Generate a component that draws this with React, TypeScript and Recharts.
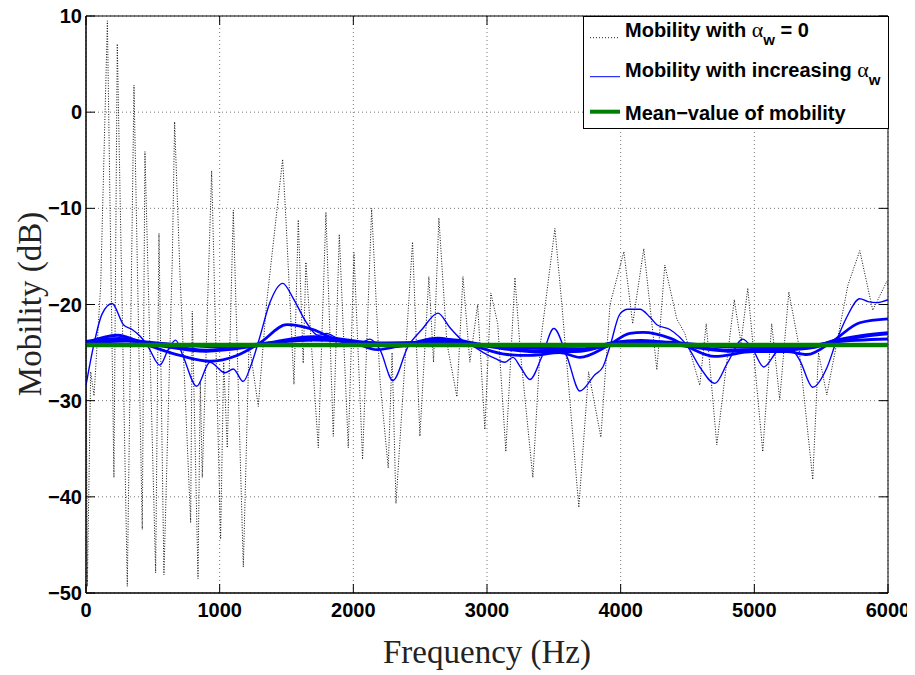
import { LineChart, Line, XAxis, YAxis, CartesianGrid, ReferenceArea, Legend } from 'recharts';

// axis ticks
const freqTicks = [0, 1000, 2000, 3000, 4000, 5000, 6000];
const dbTicks = [-50, -40, -30, -20, -10, 0, 10];

// mobility with alpha_w = 0 (dotted, resonance peaks / anti-resonances)
const undampedFreq = [
  0, 10, 35, 60, 110, 160, 209, 234, 270, 309, 359, 421, 441, 521, 546, 583, 646, 663, 703, 783,
  795, 838, 855, 870, 940, 1007, 1030, 1057, 1102, 1177, 1220, 1289, 1350, 1471, 1496, 1556, 1588, 1625, 1645, 1738,
  1795, 1850, 1895, 1962, 2005, 2069, 2137, 2200, 2261, 2290, 2319, 2443, 2498, 2565, 2600, 2640, 2700, 2775, 2820, 2872,
  2930, 2984, 3029, 3080, 3141, 3209, 3250, 3343, 3400, 3508, 3560, 3687, 3760, 3852, 3920, 4024, 4090, 4173, 4271, 4330,
  4420, 4480, 4592, 4640, 4719, 4850, 4900, 4951, 5063, 5130, 5190, 5258, 5330, 5437, 5480, 5542, 5700, 5789, 5886, 5991, 6000,
];
const undampedDb = [
  -22, -49.3, -27, -29.5, -18, 9.5, -38, 7.1, -20, -49.3, 2.8, -43.4, -4.1, -47.9, -12.6, -48.1, -15.1, -1.0, -16.8, -42.7,
  -20.7, -48.5, -28, -38, -6.1, -44.4, -26, -34.9, -10.2, -47.3, -24, -30.6, -20, -4.9, -11.2, -28.3, -11.2, -26.1, -15.6, -34.9,
  -10.4, -33.7, -12.7, -34.9, -14.6, -36.1, -10.0, -28, -37.0, -25, -40.7, -13.5, -33.7, -17.1, -26, -11, -24, -29.6, -17.1, -26,
  -20, -33, -18.8, -22, -35.3, -17.2, -25, -38, -24, -12.1, -20, -41.1, -27, -33.8, -20, -14.5, -22, -14.2, -26.8, -15.9,
  -21.5, -23, -28.4, -22, -34.6, -19.5, -24, -18.3, -35.3, -22, -29.9, -18.7, -24, -38.2, -25, -29.4, -18, -14.4, -20.6, -17.6, -18,
];

// mobility with increasing alpha_w (4 curves, smallest damping first)
const alpha1Freq = [
  0, 55, 120, 195, 280, 345, 405, 465, 553, 615, 670, 727, 828, 927, 1040, 1102, 1175, 1240, 1300, 1376,
  1472, 1548, 1650, 1736, 1800, 1877, 1975, 2050, 2124, 2199, 2296, 2408, 2513, 2633, 2722, 2797, 2895, 2999, 3060, 3134,
  3194, 3250, 3321, 3411, 3500, 3598, 3695, 3807, 3867, 3919, 3994, 4054, 4144, 4218, 4271, 4368, 4503, 4592, 4705, 4802,
  4914, 4989, 5071, 5168, 5243, 5340, 5437, 5542, 5617, 5692, 5789, 5850, 5916, 6000,
];
const alpha1Db = [
  -28.4, -24.4, -21.0, -19.9, -22.1, -22.6, -23.3, -24.4, -26.3, -24.7, -23.7, -25.4, -28.5, -26.0, -27.1, -26.7, -28.0, -26.1, -23.4, -19.8,
  -17.8, -19.3, -21.9, -23.2, -23.0, -23.5, -23.9, -24.0, -23.6, -24.7, -27.9, -24.4, -22.6, -20.9, -22.4, -23.5, -24.3, -25.2, -25.6, -26.0,
  -25.5, -26.5, -27.8, -25.4, -22.5, -25.4, -29.0, -27.3, -26.5, -24.4, -21.0, -20.5, -20.5, -21.3, -22.1, -22.6, -24.4, -26.5, -28.2, -26.0,
  -23.6, -24.7, -26.5, -24.9, -24.2, -25.8, -28.6, -26.6, -23.7, -21.3, -19.4, -19.7, -19.8, -19.5,
];
const alpha2Freq = [
  0, 232, 456, 703, 927, 1129, 1301, 1503, 1698, 1877, 2027, 2176, 2408, 2633, 2872, 3149, 3321, 3545, 3695, 3904,
  4069, 4166, 4368, 4503, 4705, 4989, 5243, 5393, 5587, 5789, 6000,
];
const alpha2Db = [
  -24.0, -23.2, -24.2, -25.3, -25.9, -25.3, -24.0, -22.1, -22.6, -23.7, -24.1, -24.7, -24.1, -23.5, -24.2, -25.2, -25.3, -25.0, -25.5, -24.3,
  -23.0, -22.9, -23.5, -24.4, -25.4, -24.9, -24.9, -25.2, -23.8, -21.9, -21.5,
];
const alpha3Freq = [0, 250, 500, 900, 1300, 1700, 2100, 2300, 2700, 3000, 3400, 3700, 3950, 4150, 4500, 4800, 5200, 5450, 5600, 5800, 6000];
const alpha3Db = [-23.9, -23.6, -24.1, -24.8, -24.2, -23.4, -24.0, -24.3, -23.7, -24.3, -24.9, -24.8, -24.0, -23.8, -24.3, -24.8, -24.7, -24.4, -23.8, -23.3, -23.0];
const alpha4Freq = [0, 300, 700, 1000, 1300, 1700, 2200, 2700, 3200, 3700, 4000, 4300, 4800, 5300, 5600, 6000];
const alpha4Db = [-24.0, -23.8, -24.2, -24.4, -24.1, -23.7, -24.0, -23.9, -24.5, -24.6, -24.1, -23.9, -24.4, -24.5, -23.9, -23.6];

// mean value of mobility
const meanFreq = [0, 6000];
const meanDb = [-24.2, -24.2];

const toPoints = (f: number[], v: number[]) => f.map((x, i) => ({ f: x, db: v[i] }));

const PLOT_W = 802;
const PLOT_H = 577;
const TICK_LEN = 9;
const sans = '"Liberation Sans", Arial, Helvetica, sans-serif';
const serif = '"Liberation Serif", "Times New Roman", serif';

const fmt = (v: number) => (v < 0 ? '\u2212' + Math.abs(v) : String(v));

function FreqTick({ x, y, payload }: any) {
  return (
    <g>
      <line x1={x} y1={y} x2={x} y2={y - TICK_LEN} stroke="#000" />
      <line x1={x} y1={y - PLOT_H} x2={x} y2={y - PLOT_H + TICK_LEN} stroke="#000" />
      <text x={x} y={y + 24} textAnchor="middle" fontFamily={sans} fontWeight="bold" fontSize={20} fill="#000">
        {payload.value}
      </text>
    </g>
  );
}

function DbTick({ x, y, payload }: any) {
  return (
    <g>
      <line x1={x} y1={y} x2={x + TICK_LEN} y2={y} stroke="#000" />
      <line x1={x + PLOT_W} y1={y} x2={x + PLOT_W - TICK_LEN} y2={y} stroke="#000" />
      <text x={x - 4} y={y + 7} textAnchor="end" fontFamily={sans} fontWeight="bold" fontSize={20} fill="#000">
        {fmt(payload.value)}
      </text>
    </g>
  );
}

function FreqTitle() {
  return (
    <text x={487} y={663} textAnchor="middle" fontFamily={serif} fontSize={33} fill="#222">
      Frequency (Hz)
    </text>
  );
}

function DbTitle() {
  return (
    <text x={41} y={304} transform="rotate(-90 41 304)" textAnchor="middle" fontFamily={serif} fontSize={33} fill="#222">
      Mobility (dB)
    </text>
  );
}

function LegendBox() {
  const label = { fontFamily: sans, fontWeight: 'bold' as const, fontSize: 20, fill: '#000' };
  return (
    <svg width={306} height={114} style={{ display: 'block' }}>
      <rect x={0.5} y={0.5} width={305} height={112} fill="#fff" stroke="#000" />
      <line x1={7} y1={21.7} x2={37} y2={21.7} stroke="#222" strokeDasharray="1 2" />
      <text x={42} y={20.5} {...label}>
        Mobility with{' '}
        <tspan fontFamily={serif} fontWeight="normal" fontSize={22}>α</tspan>
        <tspan dy={8} fontSize={15}>w</tspan>
        <tspan dy={-8}> = 0</tspan>
      </text>
      <line x1={7} y1={60.7} x2={37} y2={60.7} stroke="#0000ff" strokeWidth={1} />
      <text x={42} y={60.5} {...label}>
        Mobility with increasing{' '}
        <tspan fontFamily={serif} fontWeight="normal" fontSize={22}>α</tspan>
        <tspan dy={8} fontSize={15}>w</tspan>
      </text>
      <line x1={7} y1={95.7} x2={37} y2={95.7} stroke="#008000" strokeWidth={4} />
      <text x={42} y={103.5} {...label}>
        Mean{'\u2212'}value of mobility
      </text>
    </svg>
  );
}

export default function App() {
  return (
    <div style={{ width: 915, height: 675, margin: '-8px 0 0 -8px', background: '#fff' }}>
      <LineChart width={915} height={675} margin={{ top: 16, right: 27, bottom: 0, left: 8 }}>
        <CartesianGrid stroke="#777" strokeDasharray="1 3" />
        <XAxis
          dataKey="f"
          type="number"
          domain={[0, 6000]}
          ticks={freqTicks}
          height={82}
          tickSize={0}
          tickMargin={0}
          tickLine={false}
          axisLine={{ stroke: '#000' }}
          tick={<FreqTick />}
          label={<FreqTitle />}
          allowDataOverflow
        />
        <YAxis
          type="number"
          domain={[-50, 10]}
          ticks={dbTicks}
          width={78}
          tickSize={0}
          tickMargin={0}
          tickLine={false}
          axisLine={{ stroke: '#000' }}
          tick={<DbTick />}
          label={<DbTitle />}
          allowDataOverflow
        />
        <Line data={toPoints(undampedFreq, undampedDb)} dataKey="db" type="linear" stroke="#111" strokeWidth={1} strokeDasharray="1 1.6" dot={false} isAnimationActive={false} />
        <Line data={toPoints(alpha4Freq, alpha4Db)} dataKey="db" type="monotone" stroke="#0000ff" strokeWidth={3} dot={false} isAnimationActive={false} />
        <Line data={toPoints(alpha3Freq, alpha3Db)} dataKey="db" type="monotone" stroke="#0000ff" strokeWidth={4} dot={false} isAnimationActive={false} />
        <Line data={toPoints(alpha2Freq, alpha2Db)} dataKey="db" type="monotone" stroke="#0000ff" strokeWidth={2.8} dot={false} isAnimationActive={false} />
        <Line data={toPoints(alpha1Freq, alpha1Db)} dataKey="db" type="monotone" stroke="#0000ff" strokeWidth={1.4} dot={false} isAnimationActive={false} />
        <Line data={toPoints(meanFreq, meanDb)} dataKey="db" type="linear" stroke="#008000" strokeWidth={4.5} dot={false} isAnimationActive={false} />
        <ReferenceArea x1={0} x2={6000} y1={-50} y2={10} fill="none" stroke="#000" strokeWidth={1} />
        <Legend
          layout="horizontal"
          verticalAlign="middle"
          align="center"
          content={<LegendBox />}
          wrapperStyle={{ left: 583, top: 16, width: 306, height: 114 }}
        />
      </LineChart>
    </div>
  );
}
